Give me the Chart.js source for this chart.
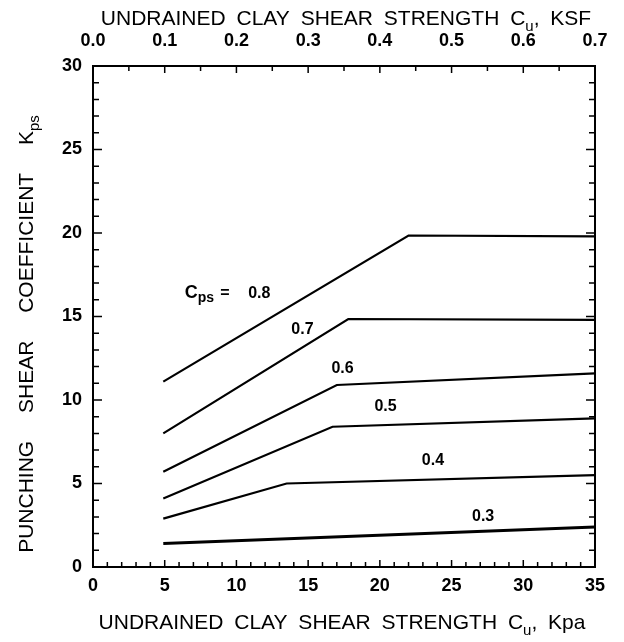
<!DOCTYPE html>
<html>
<head>
<meta charset="utf-8">
<script src="https://cdn.jsdelivr.net/npm/chart.js@4/dist/chart.umd.min.js"></script>
<style>
  html, body { margin: 0; padding: 0; background: #fff; }
  #wrap { width: 624px; height: 642px; position: relative; }
</style>
</head>
<body>
<div id="wrap"><canvas id="grafico"></canvas></div>
<script>
// curvas Cps: x = Cu (kPa), y = Kps
const cpsLevels = ["0.8", "0.7", "0.6", "0.5", "0.4", "0.3"];
const curveCu = [
  [4.9, 22.0, 35],
  [4.9, 17.8, 35],
  [4.9, 17.0, 35],
  [4.9, 16.7, 35],
  [4.9, 13.5, 35],
  [4.9, 35]
];
const curveKps = [
  [11.1, 19.85, 19.8],
  [8.0, 14.85, 14.8],
  [5.7, 10.9, 11.6],
  [4.1, 8.4, 8.9],
  [2.9, 5.0, 5.5],
  [1.4, 2.4]
];
// etiquetas de las curvas (en unidades de datos)
const labelCu = [6.4, 14.6, 17.4, 20.4, 23.7, 27.2];
const labelKps = [16.4, 14.2, 11.9, 9.6, 6.4, 3.0];

const kpaTicks = [0, 35, 5];     // min, max, paso
const ksfTicks = [0, 0.7, 0.1];
const kpsTicks = [0, 30, 5];

const TICK_FONT = { family: "Liberation Sans", size: 18, weight: "bold" };
const TITLE_FONT = '21px "Liberation Sans"';

const datasets = cpsLevels.map((c, i) => ({
  label: "Cps = " + c,
  data: curveCu[i].map((x, j) => ({ x: x, y: curveKps[i][j] })),
  borderColor: "#000",
  borderWidth: i === 5 ? 3 : 2.2,
  pointRadius: 0,
  fill: false,
  tension: 0,
  xAxisID: "x",
  yAxisID: "y"
}));

// texto con subíndices
function drawRich(ctx, parts, x, y, ws) {
  const subFont = '15px "Liberation Sans"';
  ctx.wordSpacing = ws + "px";
  let total = 0;
  parts.forEach(p => {
    ctx.font = p.sub ? subFont : TITLE_FONT;
    total += ctx.measureText(p.t).width;
  });
  let cx = x - total / 2;
  ctx.textAlign = "left";
  ctx.textBaseline = "alphabetic";
  parts.forEach(p => {
    ctx.font = p.sub ? subFont : TITLE_FONT;
    ctx.fillText(p.t, cx, p.sub ? y + 6 : y);
    cx += ctx.measureText(p.t).width;
  });
  ctx.wordSpacing = "0px";
}

const extras = {
  id: "extras",
  afterDraw(c) {
    const ctx = c.ctx;
    const a = c.chartArea;
    const sx = c.scales.x, sy = c.scales.y, sx2 = c.scales.x2;
    ctx.save();
    ctx.fillStyle = "#000";
    ctx.strokeStyle = "#000";
    ctx.lineWidth = 1.5;

    // ticks hacia adentro
    ctx.beginPath();
    for (let v = 0; v <= 35; v++) {
      const px = sx.getPixelForValue(v);
      const len = v % 5 === 0 ? 7 : 5;
      ctx.moveTo(px, a.bottom); ctx.lineTo(px, a.bottom - len);
    }
    for (let v = 0; v <= 30; v++) {
      const py = sy.getPixelForValue(v);
      const len = v % 5 === 0 ? 9 : 6;
      ctx.moveTo(a.left, py); ctx.lineTo(a.left + len, py);
      ctx.moveTo(a.right, py); ctx.lineTo(a.right - len, py);
    }
    for (let k = 0; k <= 14; k++) {
      const px = sx2.getPixelForValue(k * 0.05);
      ctx.moveTo(px, a.top); ctx.lineTo(px, a.top + (k % 2 === 0 ? 7 : 5));
    }
    ctx.stroke();

    // etiquetas Cps
    ctx.textBaseline = "middle";
    cpsLevels.forEach((c, i) => {
      const px = sx.getPixelForValue(labelCu[i]);
      const py = sy.getPixelForValue(labelKps[i]);
      if (i === 0) {
        ctx.textAlign = "left";
        const x0 = px;
        ctx.font = 'bold 18px "Liberation Sans"';
        ctx.fillText("C", x0, py);
        const w = ctx.measureText("C").width;
        ctx.font = 'bold 14px "Liberation Sans"';
        ctx.fillText("ps", x0 + w, py + 5);
        const w2 = ctx.measureText("ps").width;
        ctx.font = 'bold 16px "Liberation Sans"';
        ctx.fillText("=", x0 + w + w2 + 6, py);
        ctx.fillText(c, x0 + w + w2 + 34, py);
      } else {
        ctx.font = 'bold 16px "Liberation Sans"';
        ctx.textAlign = "center";
        ctx.fillText(c, px, py);
      }
    });

    // títulos de ejes
    const cx = (a.left + a.right) / 2;
    drawRich(ctx, [{ t: "UNDRAINED CLAY SHEAR STRENGTH C" }, { t: "u", sub: true }, { t: ", KSF" }],
      cx + 2, 25, 5);
    drawRich(ctx, [{ t: "UNDRAINED CLAY SHEAR STRENGTH C" }, { t: "u", sub: true }, { t: ", Kpa" }],
      cx - 2, 629, 5);
    ctx.translate(33, 334);
    ctx.rotate(-Math.PI / 2);
    drawRich(ctx, [{ t: "PUNCHING SHEAR COEFFICIENT K" }, { t: "ps", sub: true }], 0, 0, 22);
    ctx.restore();
  }
};

const borde = { display: true, color: "#000", width: 2 };

new Chart(document.getElementById("grafico"), {
  type: "line",
  data: { datasets: datasets },
  options: {
    responsive: true,
    maintainAspectRatio: false,
    animation: false,
    layout: { padding: 0 },
    plugins: { legend: { display: false }, tooltip: { enabled: false } },
    scales: {
      x: {
        type: "linear", position: "bottom",
        min: kpaTicks[0], max: kpaTicks[1],
        border: borde,
        grid: { drawOnChartArea: false, drawTicks: false },
        ticks: { stepSize: kpaTicks[2], color: "#000", font: TICK_FONT, padding: 8, maxRotation: 0 },
        afterFit: s => { s.height = 75; }
      },
      x2: {
        type: "linear", position: "top",
        min: ksfTicks[0], max: ksfTicks[1],
        border: borde,
        grid: { drawOnChartArea: false, drawTicks: false },
        ticks: { stepSize: ksfTicks[2], color: "#000", font: TICK_FONT, padding: 14, maxRotation: 0,
                 callback: v => v.toFixed(1) },
        afterFit: s => { s.height = 66; }
      },
      y: {
        type: "linear", position: "left",
        min: kpsTicks[0], max: kpsTicks[1],
        border: borde,
        grid: { drawOnChartArea: false, drawTicks: false },
        ticks: { stepSize: kpsTicks[2], color: "#000", font: TICK_FONT, padding: 11 },
        afterFit: s => { s.width = 93; }
      },
      y2: {
        type: "linear", position: "right",
        min: kpsTicks[0], max: kpsTicks[1],
        border: borde,
        grid: { drawOnChartArea: false, drawTicks: false },
        ticks: { display: false },
        afterFit: s => { s.width = 29; }
      }
    }
  },
  plugins: [extras]
});
</script>
</body>
</html>
